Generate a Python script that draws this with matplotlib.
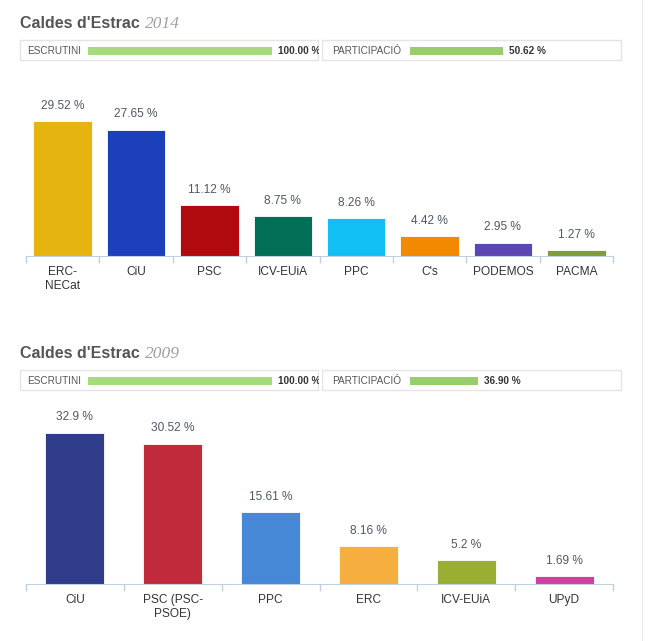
import matplotlib.pyplot as plt
from matplotlib.patches import Rectangle
from matplotlib.ticker import FixedLocator

plt.rcParams['font.family'] = ['Liberation Sans', 'DejaVu Sans']

### Data
town = "Caldes d'Estrac"

years = ['2014', '2009']
escrutini = [100.00, 100.00]
participacio = [50.62, 36.90]

parties_2014 = ['ERC-\nNECat', 'CiU', 'PSC', 'ICV-EUiA', 'PPC', "C's", 'PODEMOS', 'PACMA']
votes_2014 = [29.52, 27.65, 11.12, 8.75, 8.26, 4.42, 2.95, 1.27]
colors_2014 = ['#e6b410', '#1c40bc', '#b0090e', '#006f55', '#12bff5', '#f18a00', '#5b46b2', '#7f9c3a']

parties_2009 = ['CiU', 'PSC (PSC-\nPSOE)', 'PPC', 'ERC', 'ICV-EUiA', 'UPyD']
votes_2009 = [32.9, 30.52, 15.61, 8.16, 5.2, 1.69]
colors_2009 = ['#2f3c8a', '#c02a3b', '#4688d6', '#f6ae3e', '#9aae33', '#d23f9f']

### Figure in pixel units
W, H = 650, 641
fig = plt.figure(figsize=(W / 100, H / 100), dpi=100)
fig.patch.set_facecolor('white')


def px_axes(x0, y0, x1, y1):
    return fig.add_axes([x0 / W, 1 - y1 / H, (x1 - x0) / W, (y1 - y0) / H])


# overlay for titles and status boxes
ov = px_axes(0, 0, W, H)
ov.set_xlim(0, W)
ov.set_ylim(H, 0)
ov.axis('off')
ov.plot([642, 642], [0, H], color='#ececec', lw=1)


def header(dy, year, escr, part):
    ov.text(20, 27.5 + dy, town, fontsize=11.5, fontweight='bold', color='#555555', va='baseline')
    ov.text(145, 27.5 + dy, year, fontsize=12.5, style='italic', family='Liberation Serif',
            color='#a0a0a0', va='baseline')
    full = 184
    for bx0, bx1, lab, tx, barx, val, col in [
            (20, 318, 'ESCRUTINI', 27, 88, escr, '#a6da7c'),
            (322, 621, 'PARTICIPACIÓ', 332, 410, part, '#98cd6b')]:
        ov.add_patch(Rectangle((bx0, 40 + dy), bx1 - bx0, 20, facecolor='white',
                               edgecolor='#e4e4e4', lw=1, zorder=1))
        ov.text(tx, 50.5 + dy, lab, fontsize=7.2, color='#555555', va='center', zorder=2)
        ov.add_patch(Rectangle((barx, 47 + dy), full * val / 100, 7.5, facecolor=col, lw=0, zorder=2))
        ov.text(barx + full * val / 100 + 6, 50.5 + dy, f'{val:.2f} %', fontsize=7.2,
                fontweight='bold', color='#333333', va='center', zorder=2)
    # the escrutini value is cut off at the edge of its box
    ov.add_patch(Rectangle((318.6, 41 + dy), 3, 18, facecolor='white', lw=0, zorder=3))


def bars(ax, names, vals, cols, width, top):
    x = range(len(vals))
    ax.bar(x, vals, width=width, color=cols, edgecolor='white', linewidth=0.6)
    ax.set_xlim(-0.5, len(vals) - 0.5)
    ax.set_ylim(0, top)
    for i, v in zip(x, vals):
        ax.annotate(f'{v:g} %', (i, v), xytext=(0, 11), textcoords='offset points',
                    ha='center', va='center', fontsize=8.6, color='#4e5866')
    for s in ['top', 'left', 'right']:
        ax.spines[s].set_visible(False)
    ax.spines['bottom'].set_color('#c0d0e0')
    ax.set_yticks([])
    ax.set_xticks(list(x))
    ax.set_xticklabels(names, fontsize=8.6, color='#333333', linespacing=1.25)
    ax.tick_params(axis='x', which='major', length=0, pad=7)
    ax.xaxis.set_minor_locator(FixedLocator([i - 0.5 for i in range(len(vals) + 1)]))
    ax.tick_params(axis='x', which='minor', length=5, color='#c0d0e0', width=1)
    ax.set_facecolor('none')


header(0, years[0], escrutini[0], participacio[0])
header(330, years[1], escrutini[1], participacio[1])

ax1 = px_axes(26, 90, 613, 256)
bars(ax1, parties_2014, votes_2014, colors_2014, 0.797, 166 / 4.573)

ax2 = px_axes(26, 410, 613, 584)
bars(ax2, parties_2009, votes_2009, colors_2009, 0.603, 174 / 4.6)

fig.savefig('out.png', dpi=100, facecolor='white')
